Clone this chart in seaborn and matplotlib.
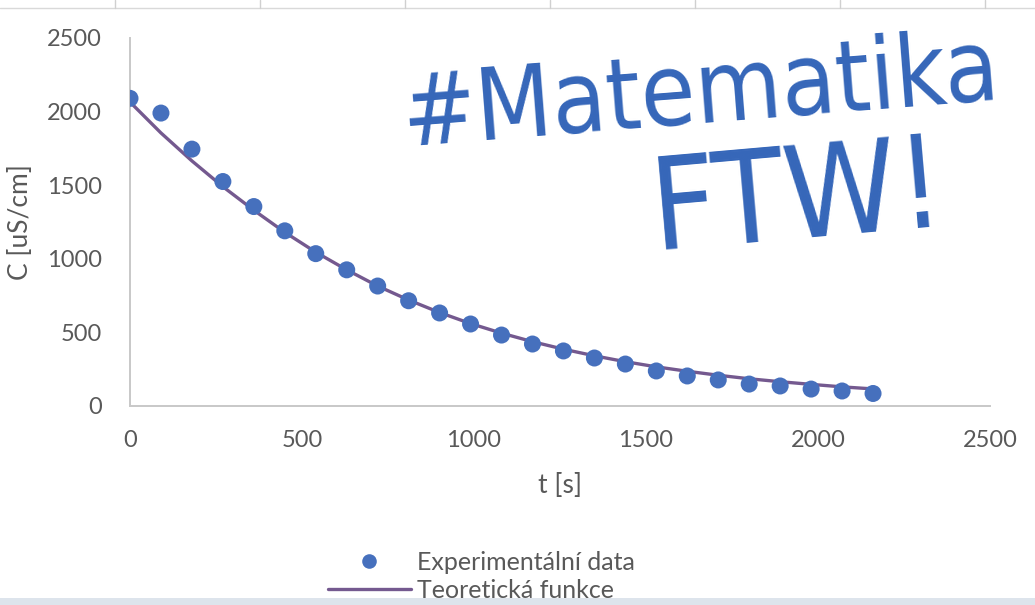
import matplotlib
matplotlib.use("Agg")
import matplotlib.pyplot as plt
from matplotlib.lines import Line2D
from matplotlib.patches import Rectangle
import pandas as pd
import seaborn as sns

# Measured conductivity decay and the fitted theoretical curve
time_s = [0, 90, 180, 270, 360, 450, 540, 630, 720, 810, 900, 990, 1080,
          1170, 1260, 1350, 1440, 1530, 1620, 1710, 1800, 1890, 1980, 2070, 2160]
measured = [2090, 1990, 1745, 1525, 1355, 1190, 1035, 925, 815, 715, 632, 557, 482,
            421, 374, 326, 285, 238, 204, 177, 149, 136, 115, 102, 85]
theory = [2065, 1855, 1665, 1490, 1330, 1180, 1045, 925, 815, 720, 635, 560, 495,
          437, 386, 341, 301, 266, 236, 209, 185, 165, 147, 130, 116]

x_ticks = [0, 500, 1000, 1500, 2000, 2500]
y_ticks = [0, 500, 1000, 1500, 2000, 2500]

label_points = "Experimentální data"
label_line = "Teoretická funkce"
x_title = "t [s]"
y_title = "C [uS/cm]"
note_1 = "#Matematika"
note_2 = "FTW!"

df = pd.DataFrame({"t": time_s, "measured": measured, "theory": theory})

sns.set_theme(style="white")
plt.rcParams["font.family"] = ["Lato", "DejaVu Sans"]

TXT = "#595959"
AXC = "#c8c8c8"
DOT = "#4670bd"
LINE = "#74598f"
INK = "#3566b9"

fig = plt.figure(figsize=(10.35, 6.05), dpi=100)
ax = fig.add_axes([130 / 1035, 199 / 605, 860 / 1035, 368 / 605])

sns.lineplot(data=df, x="t", y="theory", ax=ax, color=LINE, linewidth=2.4, zorder=2)
sns.scatterplot(data=df, x="t", y="measured", ax=ax, color=DOT, s=150,
                edgecolor="none", zorder=3)

ax.set_xlim(0, 2500)
ax.set_ylim(0, 2500)
ax.set_xticks(x_ticks)
ax.set_yticks(y_ticks)
ax.tick_params(axis="both", length=0, labelsize=17, colors=TXT)
ax.tick_params(axis="y", pad=20)
ax.tick_params(axis="x", pad=17)
for side in ("top", "right"):
    ax.spines[side].set_visible(False)
for side in ("left", "bottom"):
    ax.spines[side].set_color(AXC)
    ax.spines[side].set_linewidth(1.4)
ax.set_xlabel(x_title, fontsize=19, color=TXT, labelpad=16)
ax.set_ylabel(y_title, fontsize=19, color=TXT, labelpad=10)

handles = [
    Line2D([], [], marker="o", linestyle="none", markersize=10.5,
           markerfacecolor=DOT, markeredgecolor="none"),
    Line2D([], [], color=LINE, linewidth=2.4),
]
fig.legend(handles, [label_points, label_line], loc="upper left",
           bbox_to_anchor=(328 / 1035, 1 - 551 / 605), frameon=False,
           fontsize=18, labelcolor=TXT, handlelength=3.3, handletextpad=0.25,
           labelspacing=0.2, borderpad=0, borderaxespad=0)

# handwritten-style note over the chart
fig.text(398 / 1035, 1 - 146 / 605, note_1, fontsize=71, color=INK,
         family="DejaVu Sans", fontstretch="condensed", rotation=4.5,
         ha="left", va="baseline")
fig.text(646 / 1035, 1 - 250 / 605, note_2, fontsize=92, color=INK,
         family="DejaVu Sans", fontstretch="condensed", rotation=5,
         ha="left", va="baseline")

# spreadsheet cell edges along the top and page edge at the bottom
fig.add_artist(Line2D([0, 1], [1 - 8 / 605] * 2, color="#d9d9d9", lw=1,
                      transform=fig.transFigure))
for xp in [115, 260, 405, 550, 695, 840, 985]:
    fig.add_artist(Line2D([xp / 1035] * 2, [1 - 8 / 605, 1], color="#d0d0d0",
                          lw=1, transform=fig.transFigure))
fig.add_artist(Rectangle((0, 0), 1, 7 / 605, transform=fig.transFigure,
                         color="#dde4ec", lw=0))

fig.savefig("out.png", dpi=100)
